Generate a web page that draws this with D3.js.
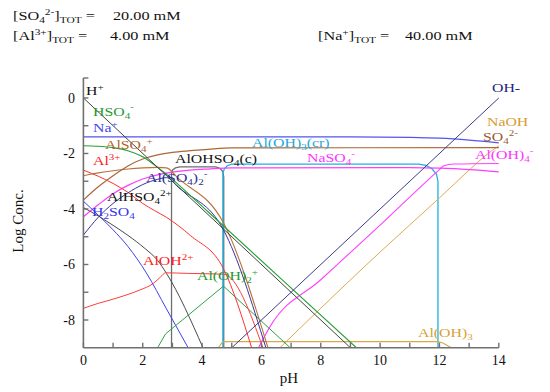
<!DOCTYPE html>
<html><head><meta charset="utf-8">
<script src="https://cdn.jsdelivr.net/npm/d3@7"></script>
<style>
body{margin:0;background:#fff}
svg{display:block}
text{font-family:"Liberation Serif","Times New Roman",serif;white-space:pre}
</style>
</head><body>
<svg id="c" width="550" height="392"></svg>
<script>
// ---- tick labels ----
const xTickVals = [0,2,4,6,8,10,12,14];
const xMinorVals = [1,3,5,7,9,11,13];
const yTickVals = [0,-2,-4,-6,-8];
const yMinorVals = [-1,-3,-5,-7];

// ---- series: [pH, log C] ----
const H_ion   = [[0,0],[9,-9]];
const OH_ion  = [[5,-9],[14,0]];
const Na_ion  = [[0,-1.4],[9,-1.4],[11,-1.42],[12,-1.45],[13,-1.52],[14,-1.62]];
const HSO4    = [[0,-1.72],[0.5,-1.74],[1,-1.79],[1.5,-1.9],[2,-2.12],[2.4,-2.42],[2.8,-2.75],[3.2,-3.12],[4.2,-4.1],[9.2,-9]];
const SO4     = [[0,-3.68],[0.5,-3.2],[1,-2.8],[1.5,-2.45],[2,-2.2],[2.5,-2.05],[3,-1.96],[3.6,-1.9],[4.2,-1.85],[5,-1.8],[14,-1.79]];
const AlSO4   = [[0,-2.8],[0.5,-2.7],[1,-2.62],[1.5,-2.56],[2,-2.52],[2.5,-2.5],[2.8,-2.52],[3.2,-2.9],[4.72,-4.5],[6.22,-9]];
const AlSO42  = [[0,-4.94],[0.5,-4.3],[1,-3.8],[1.5,-3.42],[2,-3.12],[2.5,-2.93],[2.8,-2.87],[3.2,-3.22],[4.72,-4.75],[6.15,-9]];
const Al3     = [[0,-2.6],[0.5,-2.82],[1,-3.08],[1.5,-3.4],[2,-3.8],[2.4,-4.06],[2.8,-4.3],[3.6,-4.95],[4.72,-6.15],[5.67,-9]];
const AlOH    = [[0,-7.58],[0.5,-7.4],[0.9,-7.28],[1.5,-7.08],[1.9,-6.92],[2.36,-6.68],[2.6,-6.45],[2.77,-6.3],[3.5,-6.32],[4.72,-6.35],[6.05,-9]];
const AlOH2   = [[2.5,-9],[2.77,-8.5],[4.72,-6.78],[6.97,-9]];
const AlHSO4  = [[0,-3.95],[0.5,-4.25],[0.9,-4.52],[1.5,-4.95],[2.07,-5.42],[2.5,-5.85],[2.8,-6.32],[4.03,-9]];
const H2SO4   = [[0,-3.72],[0.5,-4.22],[1,-4.75],[1.5,-5.35],[2.12,-6.3],[2.8,-7.6],[3.53,-9]];
const NaSO4   = [[0,-4.28],[0.5,-3.85],[1,-3.45],[1.5,-3.15],[2,-2.92],[2.5,-2.77],[3,-2.67],[3.6,-2.6],[4.2,-2.56],[5,-2.52],[11,-2.51],[12,-2.53],[13,-2.58],[14,-2.66]];
const AlOH4   = [[5.9,-9],[6.3,-8.22],[8,-6.55],[10,-4.58],[12,-2.58],[12.15,-2.44],[12.5,-2.38],[14,-2.36]];
const NaOH    = [[6.62,-9],[10,-5.55],[12,-3.6],[13,-2.6],[13.5,-2.12],[14,-1.72]];
const AlOH3aq = [[4.55,-9],[4.68,-8.8],[4.75,-8.78],[11.95,-8.78],[12.1,-8.82],[12.4,-9]];
const AlOH3cr = [[4.7,-9],[4.7,-2.72],[4.75,-2.55],[4.85,-2.44],[5,-2.38],[11.3,-2.38],[11.55,-2.43],[11.75,-2.55],[11.9,-2.75],[11.95,-3.0],[11.95,-9]];
const AlOHSO4c= [[2.97,-9],[2.97,-2.72],[3.0,-2.6],[3.1,-2.52],[3.25,-2.48],[4.45,-2.48],[4.6,-2.53],[4.7,-2.65],[4.73,-2.85],[4.73,-9]];

const svg = d3.select('#c');
const x = d3.scaleLinear().domain([0,14]).range([83.4,498.8]);
const y = d3.scaleLinear().domain([-9,0.72]).range([347.75,78.0]);

svg.append('defs').append('clipPath').attr('id','clip')
  .append('rect').attr('x',x(0)).attr('y',y(0.72)).attr('width',x(14)-x(0)+2).attr('height',y(-9)-y(0.72));

const smooth = d3.line().x(d=>x(d[0])).y(d=>y(d[1])).curve(d3.curveMonotoneX);
const straight = d3.line().x(d=>x(d[0])).y(d=>y(d[1]));

const series = [
  [AlOHSO4c,'#6e6e6e',straight,1.3],
  [AlOH3cr,'#1ab2e6',straight,1.3],
  [AlOH3aq,'#d9a84a',straight,1.2],
  [NaOH,'#e0a850',smooth,1],
  [AlOH4,'#ff40ff',smooth,1.1],
  [NaSO4,'#ff3cff',smooth,1.2],
  [H2SO4,'#4040ee',smooth,1],
  [AlHSO4,'#4a4a4a',smooth,1],
  [AlOH2,'#2ea046',straight,1],
  [AlOH,'#ff3c3c',smooth,1],
  [Al3,'#ff3030',smooth,1],
  [AlSO42,'#36369c',smooth,1],
  [AlSO4,'#b8723c',smooth,1.1],
  [SO4,'#a8683a',smooth,1.2],
  [HSO4,'#22a032',smooth,1.1],
  [Na_ion,'#5454f0',smooth,1.2],
  [OH_ion,'#3c3c88',straight,1],
  [H_ion,'#444444',straight,1]
];
const gl = svg.append('g').attr('clip-path','url(#clip)');
series.forEach(([d,c,gen,w])=>{
  gl.append('path').attr('d',gen(d)).attr('fill','none').attr('stroke',c).attr('stroke-width',w);
});

// ---- axes ----
const axC = '#707070';
const ga = svg.append('g');
ga.append('line').attr('x1',x(0)).attr('x2',x(0)).attr('y1',y(-9)).attr('y2',y(0.72)).attr('stroke',axC).attr('stroke-width',1.6);
ga.append('line').attr('x1',x(0)).attr('x2',x(14)).attr('y1',y(-9)).attr('y2',y(-9)).attr('stroke',axC).attr('stroke-width',1.6);
ga.append('line').attr('x1',x(0)).attr('x2',x(0)+5).attr('y1',y(0.72)).attr('y2',y(0.72)).attr('stroke',axC).attr('stroke-width',1.4);
xTickVals.concat(xMinorVals).forEach(v=>{
  ga.append('line').attr('x1',x(v)).attr('x2',x(v)).attr('y1',y(-9)).attr('y2',y(-9)-5).attr('stroke',axC).attr('stroke-width',1.4);
});
yTickVals.concat(yMinorVals).forEach(v=>{
  ga.append('line').attr('x1',x(0)).attr('x2',x(0)+5).attr('y1',y(v)).attr('y2',y(v)).attr('stroke',axC).attr('stroke-width',1.4);
});
xTickVals.forEach(v=>{
  svg.append('text').attr('x',x(v)).attr('y',365).attr('text-anchor','middle').attr('font-size',14).attr('fill','#111').text(v);
});
yTickVals.forEach(v=>{
  svg.append('text').attr('x',75).attr('y',y(v)+5).attr('text-anchor','end').attr('font-size',14).attr('fill','#111').text(v);
});
svg.append('text').attr('x',289).attr('y',383).attr('text-anchor','middle').attr('font-size',15).attr('fill','#111').text('pH');
svg.append('text').attr('transform','translate(23,221) rotate(-90)').attr('text-anchor','middle').attr('font-size',15).attr('fill','#111').text('Log Conc.');

// ---- rich text helper ----
function rich(px,py,parts,size,color,sx){
  const g = svg.append('g').attr('transform',`translate(${px},${py}) scale(${sx},1)`);
  const t = g.append('text').attr('font-size',size).attr('fill',color);
  let cur = 0;
  parts.forEach(([s,k])=>{
    const off = k==='sub' ? size*0.26 : k==='sup' ? -size*0.38 : 0;
    t.append('tspan').attr('dy',off-cur).attr('font-size',k?size*0.7:size).text(s);
    cur = off;
  });
}

// ---- header ----
const hs = 12.5, hx = 1.3;
rich(13,20,[['[SO'],['4','sub'],['2-','sup'],[']'],['TOT','sub'],[' =']],hs,'#111',hx);
rich(113,20,[['20.00 mM']],hs,'#111',hx);
rich(13,40,[['[Al'],['3+','sup'],[']'],['TOT','sub'],[' =']],hs,'#111',hx);
rich(110,40,[['4.00 mM']],hs,'#111',hx);
rich(318,40,[['[Na'],['+','sup'],[']'],['TOT','sub'],[' =']],hs,'#111',hx);
rich(405,40,[['40.00 mM']],hs,'#111',hx);

// ---- curve labels ----
const ls = 13.2, lx = 1.2;
const labels = [
  [[['H'],['+','sup']],86,95,'#111'],
  [[['HSO'],['4','sub'],['-','sup']],93,115.5,'#1e9a2e'],
  [[['Na'],['+','sup']],93,132,'#4646ee'],
  [[['AlSO'],['4','sub'],['+','sup']],105,149,'#b4622a'],
  [[['Al'],['3+','sup']],93,165,'#ff2020'],
  [[['AlOHSO'],['4','sub'],['(c)']],175,163,'#111'],
  [[['Al(OH)'],['3','sub'],['(cr)']],252,147,'#1aa8e0'],
  [[['NaSO'],['4','sub'],['-','sup']],307,162,'#ff33ff'],
  [[['Al(SO'],['4','sub'],[')'],['2','sub'],['-','sup']],146,182,'#2e2e96'],
  [[['AlHSO'],['4','sub'],['2+','sup']],107,201,'#111'],
  [[['H'],['2','sub'],['SO'],['4','sub']],92,216,'#3434ee'],
  [[['AlOH'],['2+','sup']],143,265,'#ff2020'],
  [[['Al(OH)'],['2','sub'],['+','sup']],197,280,'#1e9a2e'],
  [[['Al(OH)'],['3','sub']],418,337,'#d9a030'],
  [[['OH-']],492,92,'#22227a'],
  [[['NaOH']],487,126,'#d99a30'],
  [[['SO'],['4','sub'],['2-','sup']],483,141,'#9a5a2a'],
  [[['Al(OH)'],['4','sub'],['-','sup']],475,159,'#ff33ff']
];
labels.forEach(([p,lx0,ly0,c])=>rich(lx0,ly0,p,ls,c,lx));
</script>
</body></html>
